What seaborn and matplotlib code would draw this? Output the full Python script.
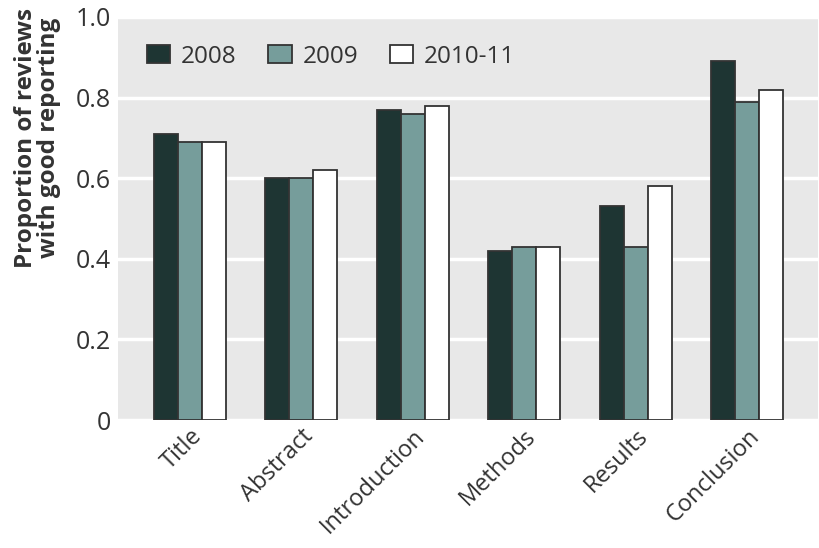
import matplotlib
matplotlib.use("Agg")
import matplotlib.pyplot as plt
import seaborn as sns
import pandas as pd

categories = ["Title", "Abstract", "Introduction", "Methods", "Results", "Conclusion"]
years = ["2008", "2009", "2010-11"]
v2008 = [0.71, 0.60, 0.77, 0.42, 0.53, 0.89]
v2009 = [0.69, 0.60, 0.76, 0.43, 0.43, 0.79]
v2010 = [0.69, 0.62, 0.78, 0.43, 0.58, 0.82]
yticks = [0, 0.2, 0.4, 0.6, 0.8, 1.0]
ytick_labels = ["0", "0.2", "0.4", "0.6", "0.8", "1.0"]

rows = []
for yr, vals in zip(years, [v2008, v2009, v2010]):
    for c, v in zip(categories, vals):
        rows.append({"Section": c, "Year": yr, "Value": v})
df = pd.DataFrame(rows)

sns.set_theme(style="white")
plt.rcParams['font.family'] = ['Open Sans', 'DejaVu Sans']

fig = plt.figure(figsize=(8.2, 5.48), dpi=100)
ax = fig.add_axes([118/820, 1 - 420/548, 700/820, 403/548])
ax.set_facecolor("#e8e8e8")

palette = {"2008": "#1e3533", "2009": "#769d9b", "2010-11": "#ffffff"}
sns.barplot(data=df, x="Section", y="Value", hue="Year", order=categories,
            hue_order=years, palette=palette, width=0.646, gap=0,
            edgecolor="#333333", linewidth=1.3, ax=ax, saturation=1, zorder=3)

ax.set_ylim(0, 1.0)
ax.set_xlim(-0.646, 5.637)
ax.set_yticks(yticks)
ax.set_yticklabels(ytick_labels, fontsize=18, color="#333333")
ax.yaxis.grid(True, color="white", linewidth=2.5, zorder=0)
ax.set_axisbelow(True)
for s in ax.spines.values():
    s.set_visible(False)
ax.tick_params(axis="y", length=0, pad=5)
ax.tick_params(axis="x", length=0, pad=3)
ax.set_xticks(range(len(categories)))
ax.set_xticklabels(categories, rotation=45, ha="right", rotation_mode="anchor",
                   fontsize=17, color="#333333")
ax.set_xlabel("")
ax.set_ylabel("Proportion of reviews\nwith good reporting", fontsize=17.5,
              fontweight="bold", color="#333333", linespacing=0.9)
ax.yaxis.set_label_coords(-0.082, 0.70)

leg = ax.legend(loc="upper left", ncol=3, frameon=False, fontsize=17.5,
                handlelength=0.96, handleheight=0.76, handletextpad=0.45,
                columnspacing=1.3, bbox_to_anchor=(0.01, 0.985))
for t in leg.get_texts():
    t.set_color("#333333")
for h in leg.legend_handles:
    h.set_linewidth(1.3)

fig.savefig("out.png", dpi=100)
